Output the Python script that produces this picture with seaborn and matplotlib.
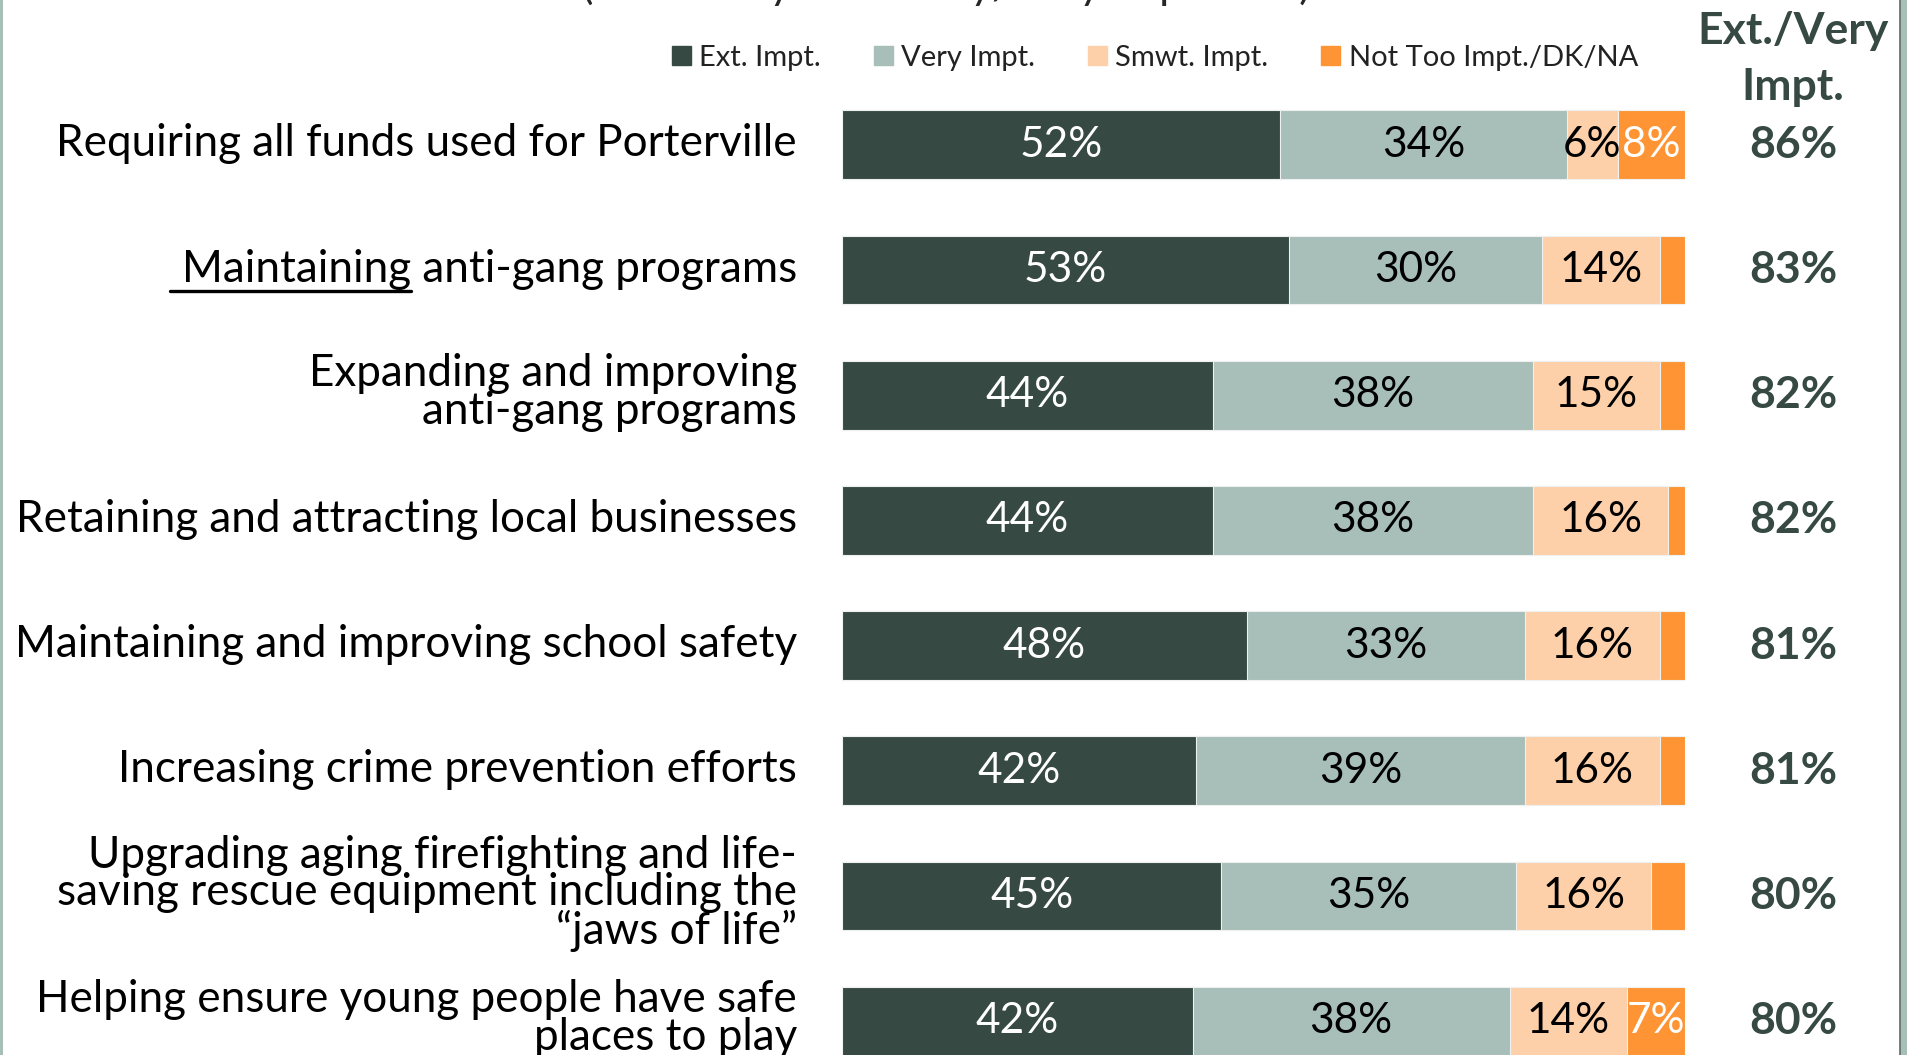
import matplotlib
matplotlib.use("Agg")
import matplotlib.pyplot as plt
import matplotlib.patches as mpatches
from matplotlib.lines import Line2D
from matplotlib.transforms import ScaledTranslation
import pandas as pd
import seaborn as sns

# values (percent)
categories = [
    "Requiring all funds used for Porterville",
    "Maintaining anti-gang programs",
    "Expanding and improving\nanti-gang programs",
    "Retaining and attracting local businesses",
    "Maintaining and improving school safety",
    "Increasing crime prevention efforts",
    "Upgrading aging firefighting and life-\nsaving rescue equipment including the\n\u201cjaws of life\u201d",
    "Helping ensure young people have safe\nplaces to play",
]
ext_impt = [52, 53, 44, 44, 48, 42, 45, 42]
very_impt = [34, 30, 38, 38, 33, 39, 35, 38]
smwt_impt = [6, 14, 15, 16, 16, 16, 16, 14]
not_too = [8, 3, 3, 2, 3, 3, 4, 7]
ext_very_total = [86, 83, 82, 82, 81, 81, 80, 80]

series_names = ["Ext. Impt.", "Very Impt.", "Smwt. Impt.", "Not Too Impt./DK/NA"]
colors = ["#364943", "#a7bfb8", "#fdd0a9", "#fe9433"]
text_colors = ["white", "black", "black", "white"]
dark = "#364943"

sns.set_style("white")
plt.rcParams["font.family"] = ["Lato", "DejaVu Sans"]

df = pd.DataFrame({
    "category": categories,
    series_names[0]: ext_impt,
    series_names[1]: very_impt,
    series_names[2]: smwt_impt,
    series_names[3]: not_too,
})
# 100% stacked: normalise each row so every bar ends at 100
row_sum = df[series_names].sum(axis=1)
for s in series_names:
    df[s] = df[s] / row_sum * 100
cum = df[series_names].cumsum(axis=1)

W, H = 1908, 1055
fig = plt.figure(figsize=(W / 100, H / 100), dpi=100)
ax = fig.add_axes([842 / W, 0, 843 / W, 1])

# draw the longest cumulative bar first, shorter ones on top
for s, c in reversed(list(zip(series_names, colors))):
    sns.barplot(data=cum.assign(category=df["category"]), x=s, y="category",
                orient="h", color=c, width=0.55, saturation=1,
                edgecolor="#eef1ef", linewidth=0.8, ax=ax)

# segment labels
for j, s in enumerate(series_names):
    for i in range(len(categories)):
        v = df.loc[i, s]
        if v < 5:
            continue
        left = cum.loc[i, s] - v
        ax.text(left + v / 2, i, f"{round(v)}%", ha="center", va="center",
                color=text_colors[j], fontsize=30.5)

# Ext./Very column
for i, t in enumerate(ext_very_total):
    ax.text(112.8, i, f"{t}%", ha="center", va="center", color=dark,
            fontsize=32, fontweight="bold", clip_on=False)
fig.text(1793 / W, 1 - 59 / H, "Ext./Very\nImpt.", ha="center", va="center",
         color=dark, fontsize=32, fontweight="bold", linespacing=1.5)

ax.set_xlim(0, 100)
ax.set_ylim(7.27, -1.157)
ax.set_xlabel("")
ax.set_ylabel("")
ax.set_xticks([])
ax.tick_params(axis="y", length=0, pad=32.4, labelsize=31.7, labelcolor="black")
for lab in ax.get_yticklabels():
    lab.set_linespacing(0.9)
    lab.set_transform(lab.get_transform() + ScaledTranslation(0, 0.05, fig.dpi_scale_trans))
sns.despine(ax=ax, left=True, bottom=True)

# legend
handles = [mpatches.Patch(color=c) for c in colors]
fig.legend(handles, series_names, loc="center", bbox_to_anchor=(0.6053, 1 - 58 / H),
           ncol=4, frameon=False, fontsize=21, handlelength=0.65, handleheight=0.65,
           handletextpad=0.3, columnspacing=1.8, labelcolor="#222222")

# cut-off subtitle at the very top
fig.text(946 / W, 1 + 1 / H, "(Ranked by Extremely/Very Important)", ha="center",
         va="baseline", fontsize=31)

# slide border pieces
fig.add_artist(mpatches.Rectangle((0, 0), 3 / W, 1, transform=fig.transFigure,
                                  color="#a7bfb8", lw=0))
fig.add_artist(mpatches.Rectangle((1900 / W, 0), 8 / W, 1, transform=fig.transFigure,
                                  color="#a7bfb8", lw=0))
fig.add_artist(Line2D([1900 / W, 1900 / W], [0, 1], transform=fig.transFigure,
                      color="#5d6b67", lw=1.2))

# underline "Maintaining"
fig.canvas.draw()
renderer = fig.canvas.get_renderer()
lab = ax.get_yticklabels()[1]
bb = lab.get_window_extent(renderer)
tmp = fig.text(0, 0, " Maintaining", fontsize=31.7)
tmp2 = fig.text(0, 0, "Maintaining", fontsize=31.7)
w_sp = tmp.get_window_extent(renderer).width
w_word = tmp2.get_window_extent(renderer).width
tmp.remove()
tmp2.remove()
x0 = bb.x0 - (w_sp - w_word)
x1 = bb.x0 + w_word
yl = bb.y0 - 1
fig.add_artist(Line2D([x0 / W, x1 / W], [yl / H, yl / H], transform=fig.transFigure,
                      color="black", lw=2.4))

fig.savefig("out.png", dpi=100)
